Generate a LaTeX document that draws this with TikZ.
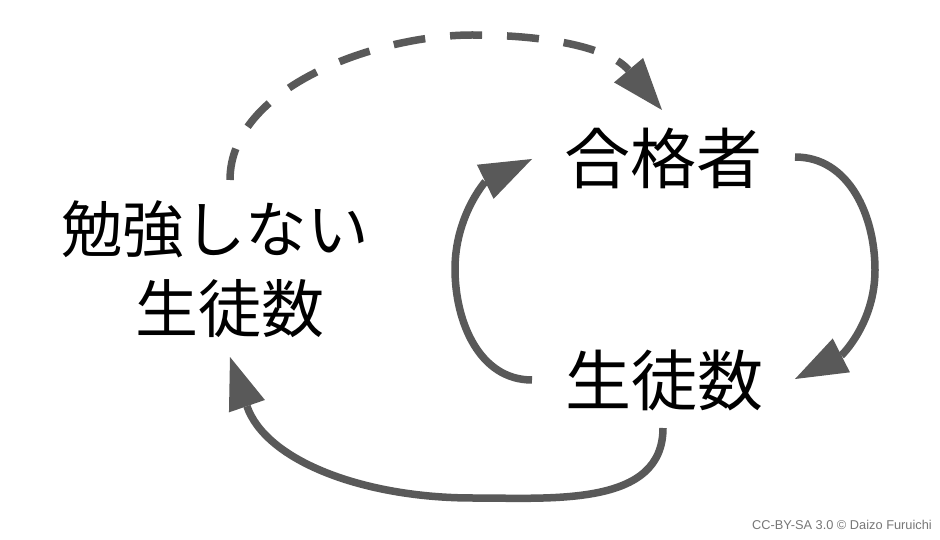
\documentclass[tikz,border=0pt]{standalone}
\usepackage{fontspec}
\newfontfamily\cjk{Noto Sans CJK JP}
\newfontfamily\creditfont{Liberation Sans}
\usetikzlibrary{arrows.meta}
\definecolor{arc}{HTML}{595959}
\definecolor{credgray}{HTML}{777777}
\tikzset{
  label/.style={inner sep=0pt, font=\cjk\fontsize{66}{70}\selectfont},
  leftlabel/.style={inner sep=0pt, font=\cjk\fontsize{63}{70}\selectfont},
  conn/.style={draw=arc, line width=7.5pt, -{Triangle[length=52pt,width=38pt,line width=0pt]}, arc},
  dashconn/.style={conn, dash pattern=on 32pt off 25pt},
}
\begin{document}
\begin{tikzpicture}[x=1pt,y=1pt]
\useasboundingbox (0,0) rectangle (940,539);
\fill[white] (0,0) rectangle (940,539);
\node[label] (pass) at (663,380.5) {合格者};
\node[label] (stud) at (664,159) {生徒数};
\node[leftlabel, font=\cjk\fontsize{61.5}{70}\selectfont] (nl1) at (215,310) {勉強しない};
\node[leftlabel] (nl2) at (230,230.5) {生徒数};
\node[inner sep=0pt, anchor=east, text=credgray, font=\creditfont\fontsize{12.8}{15}\selectfont] (credit) at (932,14) {CC-BY-SA 3.0 © Daizo Furuichi};
% connector ends
\coordinate (r1) at (795,382);
\coordinate (r2) at (875,269);
\coordinate (r3) at (795,160);
\coordinate (i1) at (532,159);
\coordinate (i2) at (455,270);
\coordinate (i3) at (532,380);
\coordinate (b1) at (663,111);
\coordinate (b2) at (473,41);
\coordinate (b3) at (230,182);
\coordinate (d1) at (230,359);
\coordinate (d2) at (472,504);
\coordinate (d3) at (662,429);
\draw[conn] (r1) to[out=0,in=90] (r2) to[out=-90,in=27] (r3);
\draw[conn] (i1) to[out=180,in=-90] (i2) to[out=90,in=206] (i3);
\draw[conn] (b1) to[out=-90,in=0] (b2) to[out=180,in=-71] (b3);
\draw[dashconn] (d1) to[out=90,in=180,looseness=0.85] (d2) to[out=0,in=130] (d3);
\end{tikzpicture}
\end{document}
